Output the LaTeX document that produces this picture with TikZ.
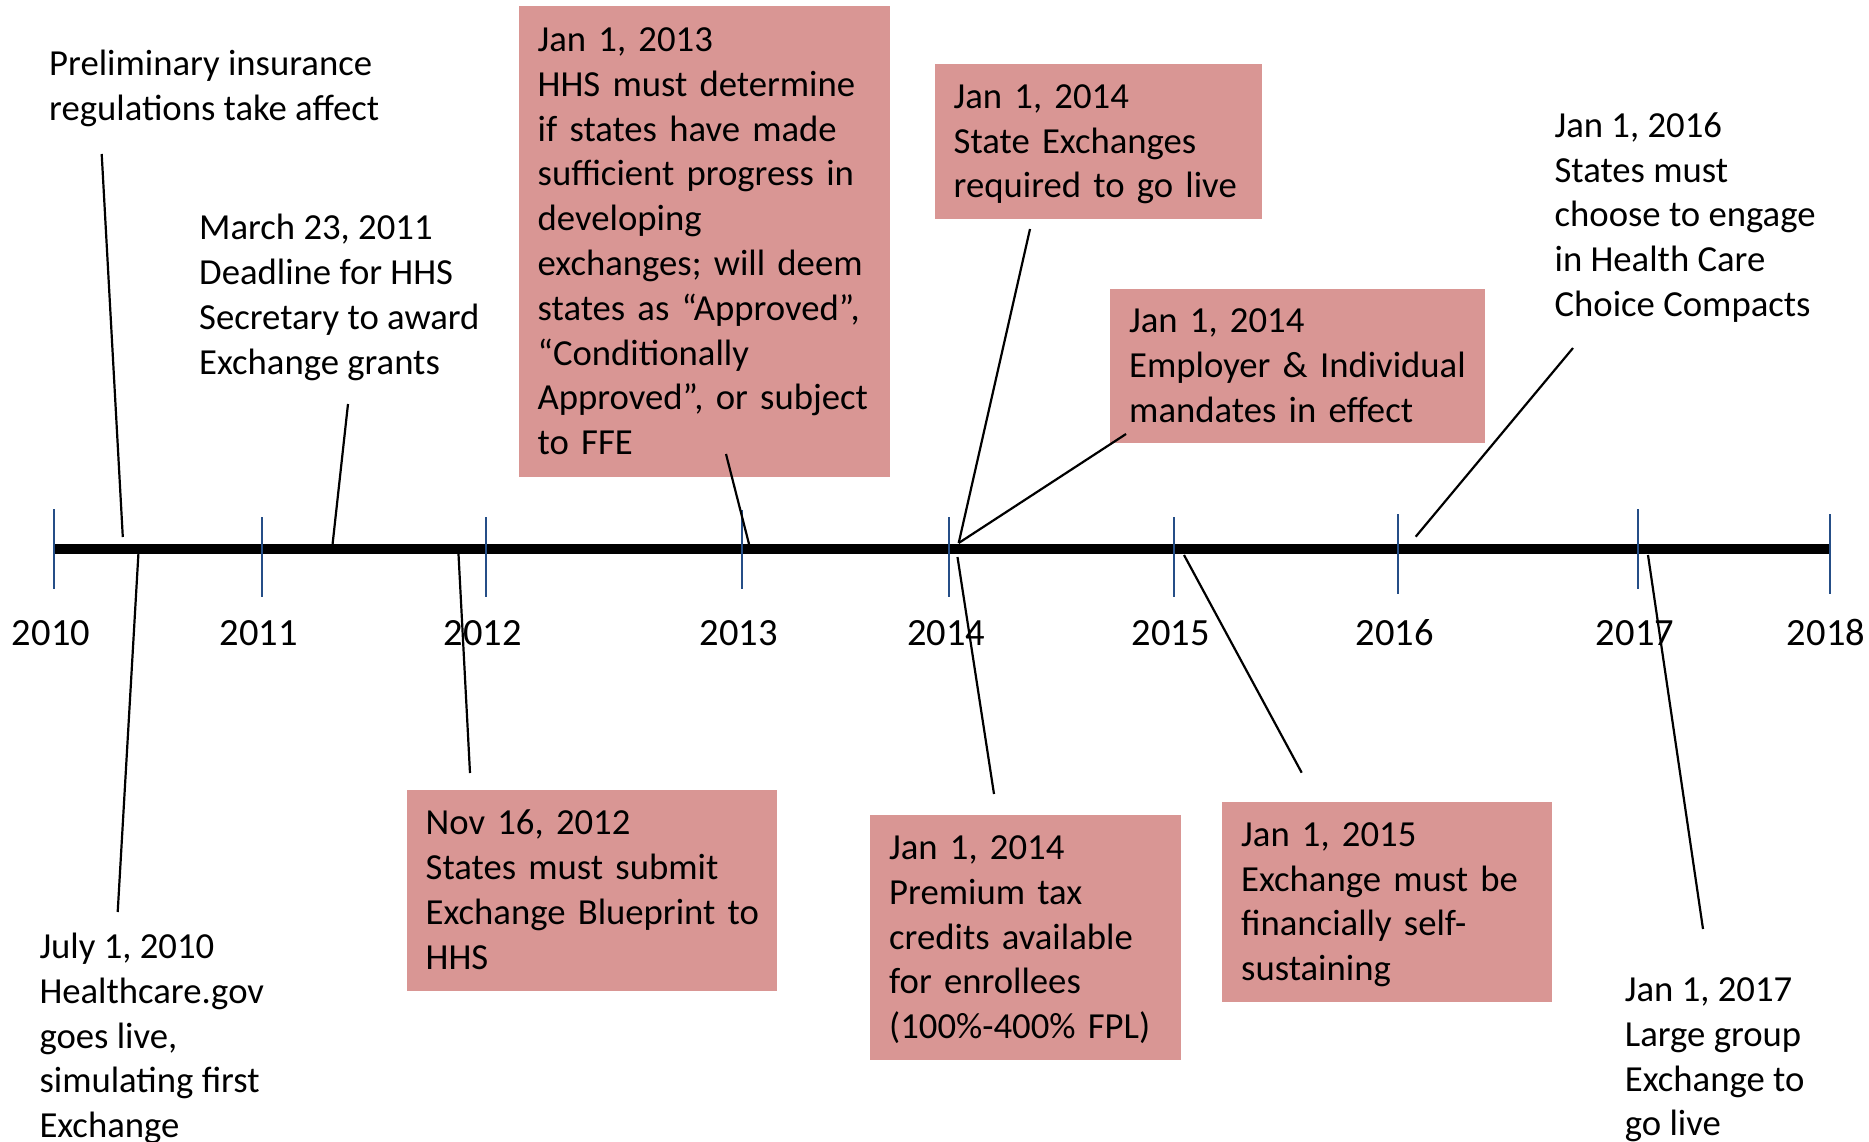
\documentclass[tikz,border=0pt]{standalone}
\usepackage{fontspec}
\setmainfont{Carlito}
\definecolor{boxfill}{RGB}{217,150,148}
\definecolor{tickblue}{RGB}{37,78,135}
\newcommand\rowsof[1]{\raisebox{-2.4pt}[\height][\depth]{\begin{tabular}{@{}l@{}}#1\end{tabular}}}
\begin{document}
\begin{tikzpicture}[x=1pt,y=-1pt,
  every node/.style={font={\fontsize{36.7}{44.8}\selectfont}, inner sep=0pt, text=black},
  evbox/.style={fill=boxfill, anchor=north west, inner xsep=19pt, inner ysep=0pt, align=left},
  plaintxt/.style={anchor=north west, inner sep=0pt, align=left},
  yearlbl/.style={anchor=base, font={\fontsize{38.5}{46}\selectfont}},
  conn/.style={draw=black, line width=2.2pt},
  tickln/.style={draw=tickblue, line width=2pt},
  barln/.style={draw=black, line width=10pt}]
\useasboundingbox (0,0) rectangle (1869,1142);

% timeline bar
\coordinate (barL) at (54,549);
\coordinate (barR) at (1830,549);
\draw[barln] (barL) -- (barR);

% ticks
\foreach \x/\a/\b in {54/509/589, 261.6/517/597, 485.7/517/597, 741.7/510/589,
  949.4/517/597, 1173.8/517/597, 1397.5/514/594, 1638/509/589, 1830/514/594}
  \draw[tickln] (\x,\a) -- (\x,\b);

% year labels
\node[yearlbl] (y2010) at (51,645) {2010};
\node[yearlbl] (y2011) at (258.6,645) {2011};
\node[yearlbl] (y2012) at (482.7,645) {2012};
\node[yearlbl] (y2013) at (738.7,645) {2013};
\node[yearlbl] (y2014) at (946.4,645) {2014};
\node[yearlbl] (y2015) at (1170.8,645) {2015};
\node[yearlbl] (y2016) at (1394.5,645) {2016};
\node[yearlbl] (y2017) at (1635,645) {2017};
\node[yearlbl] (y2018) at (1826,645) {2018};

% boxed events
\node[evbox, text width=333.5pt, minimum height=471pt] (b2013) at (518.5,6)
  {\rowsof{Jan 1, 2013\\HHS must determine\\if states have made\\sufficient progress in\\developing\\exchanges; will deem\\states as “Approved”,\\“Conditionally\\Approved”, or subject\\to FFE}};
\node[evbox, text width=332.5pt, minimum height=200.5pt] (bNov) at (406.5,790)
  {\rowsof{Nov 16, 2012\\States must submit\\Exchange Blueprint to\\HHS}};
\node[evbox, text width=289.5pt, minimum height=155pt] (bState) at (934.5,64)
  {\rowsof{Jan 1, 2014\\State Exchanges\\required to go live}};
\node[evbox, text width=337pt, minimum height=154.5pt] (bEmp) at (1110,288.5)
  {\rowsof{Jan 1, 2014\\Employer \& Individual\\mandates in effect}};
\node[evbox, text width=273pt, minimum height=245pt] (bPrem) at (870,815)
  {\rowsof{Jan 1, 2014\\Premium tax\\credits available\\for enrollees\\(100\%-400\% FPL)}};
\node[evbox, text width=292pt, minimum height=200pt] (b2015) at (1222,802)
  {\rowsof{Jan 1, 2015\\Exchange must be\\financially self-\\sustaining}};

% plain events
\node[plaintxt] (tPrelim) at (49,41.3)
  {\rowsof{Preliminary insurance\\regulations take affect}};
\node[plaintxt] (tMarch) at (199,205.8)
  {\rowsof{March 23, 2011\\Deadline for HHS\\Secretary to award\\Exchange grants}};
\node[plaintxt] (tJuly) at (39.3,924.6)
  {\rowsof{July 1, 2010\\Healthcare.gov\\goes live,\\simulating first\\Exchange}};
\node[plaintxt] (t2016) at (1554.4,103.3)
  {\rowsof{Jan 1, 2016\\States must\\choose to engage\\in Health Care\\Choice Compacts}};
\node[plaintxt] (t2017) at (1624.7,967.6)
  {\rowsof{Jan 1, 2017\\Large group\\Exchange to\\go live}};

% connector end points
\coordinate (c1a) at (101.7,154);   \coordinate (c1b) at (122.8,537);
\coordinate (c2a) at (348,404);     \coordinate (c2b) at (332.6,544);
\coordinate (c3a) at (138.4,554);   \coordinate (c3b) at (117.7,912);
\coordinate (c4a) at (458.5,554);   \coordinate (c4b) at (470,773);
\coordinate (c5a) at (726,454);     \coordinate (c5b) at (749,544);
\coordinate (c6a) at (1030,229);    \coordinate (c6b) at (958.7,543);
\coordinate (c7a) at (1126,434);
\coordinate (c8a) at (957.5,557);   \coordinate (c8b) at (994,794);
\coordinate (c9a) at (1184,555);    \coordinate (c9b) at (1301.7,772.7);
\coordinate (c10a) at (1573,348);   \coordinate (c10b) at (1415.7,536.7);
\coordinate (c11a) at (1648,555);   \coordinate (c11b) at (1703,929);

\draw[conn] (c1a) -- (c1b);
\draw[conn] (c2a) -- (c2b);
\draw[conn] (c3a) -- (c3b);
\draw[conn] (c4a) -- (c4b);
\draw[conn] (c5a) -- (c5b);
\draw[conn] (c6a) -- (c6b);
\draw[conn] (c7a) -- (c6b);
\draw[conn] (c8a) -- (c8b);
\draw[conn] (c9a) -- (c9b);
\draw[conn] (c10a) -- (c10b);
\draw[conn] (c11a) -- (c11b);
\end{tikzpicture}
\end{document}
